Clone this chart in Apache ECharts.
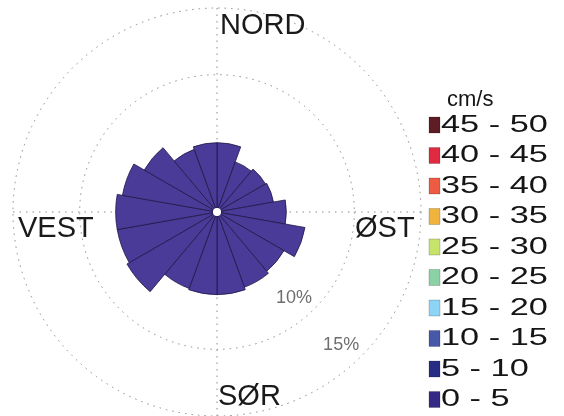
<!DOCTYPE html>
<html>
<head>
<meta charset="utf-8">
<script src="https://cdn.jsdelivr.net/npm/echarts@6/dist/echarts.min.js"></script>
<style>
  html, body { margin: 0; padding: 0; background: #ffffff; }
  #chart { width: 564px; height: 416px; }
</style>
</head>
<body>
<div id="chart"></div>
<script>
// Direction sectors (start of each 20° sector, clockwise from north)
const sectors = ['0', '20', '40', '60', '80', '100', '120', '140', '160',
                 '180', '200', '220', '240', '260', '280', '300', '320', '340'];

// Share of time (%) per sector in the 0 - 5 cm/s class
const share0to5 = [4.9, 3.7, 3.9, 4.0, 4.9, 6.4, 5.5, 5.7, 5.9,
                   5.9, 5.8, 7.5, 7.3, 7.3, 6.9, 6.0, 4.7, 4.9];

// Speed classes (cm/s), lowest first, and their colours
const speedClasses = ['0 - 5', '5 - 10', '10 - 15', '15 - 20', '20 - 25',
                      '25 - 30', '30 - 35', '35 - 40', '40 - 45', '45 - 50'];
const classColors = ['#4b3b98', '#272c84', '#4858a8', '#8ed4f4', '#8ad2a6',
                     '#c6e46a', '#f0b43c', '#ee5a42', '#e02a40', '#5e1c24'];
const legendSwatch = ['#342a86', '#272c84', '#4858a8', '#8ed4f4', '#8ad2a6',
                      '#c6e46a', '#f0b43c', '#ee5a42', '#e02a40', '#5e1c24'];

// Percentage rings and their labels
const ringValues = [10, 15];
const ringLabels = ['10%', '15%'];
const ringLabelAngle = [138, 137];

// Compass labels
const compassLabels = ['NORD', 'ØST', 'SØR', 'VEST'];

const FONT = '"Liberation Sans", Arial, sans-serif';
const CENTER = [217, 212];
const RADIUS = [4, 204];

const chart = echarts.init(document.getElementById('chart'), null, { renderer: 'canvas' });

// series: one stacked polar bar per speed class
const barSeries = speedClasses.map((name, i) => ({
  type: 'bar',
  name: name,
  coordinateSystem: 'polar',
  polarIndex: 0,
  stack: 'speed',
  barCategoryGap: '0%',
  z: 3,
  itemStyle: { color: classColors[i], borderColor: '#1d1846', borderWidth: 0.8 },
  data: i === 0 ? share0to5 : []
}));

// ring labels placed on the grid polar through its own scales
const ringSeries = {
  type: 'scatter',
  coordinateSystem: 'polar',
  polarIndex: 1,
  symbolSize: 0,
  z: 4,
  silent: true,
  data: ringValues.map((v, i) => ({ value: [v, ringLabelAngle[i]], label: { formatter: ringLabels[i] } })),
  label: {
    show: true,
    position: 'inside',
    offset: [-15, -16],
    fontFamily: FONT,
    fontSize: 18,
    color: '#4a4a4a'
  }
};

// legend drawn as a column of swatches, highest class on top
const legendItems = [];
const rowTop = 117, rowStep = 30.5;
for (let k = 0; k < speedClasses.length; k++) {
  const i = speedClasses.length - 1 - k;
  const y = rowTop + k * rowStep;
  legendItems.push({
    type: 'rect',
    shape: { x: 429, y: y, width: 11, height: 16 },
    style: { fill: legendSwatch[i], stroke: 'rgba(0,0,0,0.3)', lineWidth: 0.6 }
  });
  legendItems.push({
    type: 'text',
    x: 441,
    y: y + 8.3,
    scaleX: 1.46,
    style: {
      text: speedClasses[i],
      font: '23.5px ' + FONT,
      fill: '#151515',
      align: 'left',
      verticalAlign: 'middle'
    }
  });
}

const compassPos = [
  { x: 220, y: 26 },   // NORD
  { x: 355, y: 229 },  // ØST
  { x: 218, y: 397 },  // SØR
  { x: 18, y: 229 }    // VEST
];
const compassItems = compassLabels.map((t, i) => ({
  type: 'text',
  x: compassPos[i].x,
  y: compassPos[i].y,
  z: 10,
  style: {
    text: t,
    font: '29px ' + FONT,
    fill: '#1a1a1a',
    align: 'left',
    verticalAlign: 'middle'
  }
}));

const option = {
  backgroundColor: '#ffffff',
  animation: false,
  polar: [
    { center: CENTER, radius: RADIUS },
    { center: CENTER, radius: RADIUS }
  ],
  angleAxis: [
    {
      polarIndex: 0,
      type: 'category',
      data: sectors,
      startAngle: 90,
      clockwise: true,
      boundaryGap: true,
      axisLine: { show: false },
      axisTick: { show: false },
      axisLabel: { show: false },
      splitLine: { show: false }
    },
    {
      polarIndex: 1,
      type: 'value',
      min: 0,
      max: 360,
      interval: 90,
      startAngle: 90,
      clockwise: true,
      axisLine: { show: false },
      axisTick: { show: false },
      axisLabel: { show: false },
      splitLine: { show: true, lineStyle: { color: '#8c8c8c', width: 1, type: [1.5, 5] } }
    }
  ],
  radiusAxis: [
    {
      polarIndex: 0,
      type: 'value',
      min: 0,
      max: 15,
      interval: 5,
      axisLine: { show: false },
      axisTick: { show: false },
      axisLabel: { show: false },
      splitLine: { show: false }
    },
    {
      polarIndex: 1,
      type: 'value',
      min: 0,
      max: 15,
      interval: 5,
      axisLine: { show: false },
      axisTick: { show: false },
      axisLabel: { show: false },
      splitLine: {
        show: true,
        lineStyle: {
          color: ['rgba(0,0,0,0)', 'rgba(0,0,0,0)', '#8c8c8c', '#8c8c8c'],
          width: 1,
          type: [1.5, 5]
        }
      }
    }
  ],
  series: barSeries.concat([ringSeries]),
  graphic: [
    {
      type: 'text',
      x: 447,
      y: 100,
      style: { text: 'cm/s', font: '22px ' + FONT, fill: '#151515', align: 'left', verticalAlign: 'middle' }
    },
    {
      type: 'circle',
      z: 20,
      shape: { cx: CENTER[0], cy: CENTER[1], r: 4 },
      style: { fill: '#ffffff' }
    }
  ].concat(legendItems, compassItems)
};

chart.setOption(option);
</script>
</body>
</html>
